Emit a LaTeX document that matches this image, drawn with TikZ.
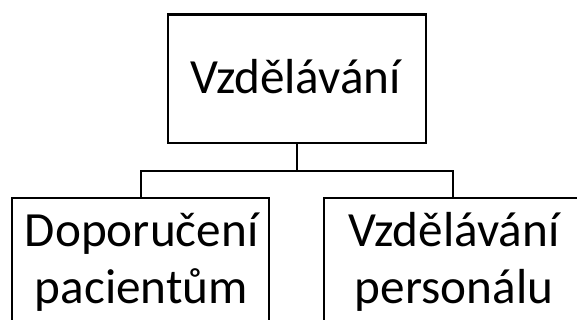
\documentclass[tikz,border=0pt]{standalone}
\usepackage{fontspec}
\setmainfont{Carlito}
\begin{document}
\begin{tikzpicture}[x=1pt,y=-1pt,
  box/.style={draw=black,line width=2.2pt,rectangle,inner sep=0pt},
  label/.style={font=\fontsize{49.2}{56}\selectfont,inner sep=0pt,anchor=base},
  link/.style={draw=black,line width=2.2pt}]
  \useasboundingbox (0,0) rectangle (577,320);
  \clip (0,0) rectangle (577,320);
  % boxes
  \node[box,minimum width=258pt,minimum height=128.8pt] (top) at (296.7,79) {};
  \node[box,minimum width=257.3pt,minimum height=160pt] (left) at (140.7,278.3) {};
  \node[box,minimum width=257.3pt,minimum height=160pt] (right) at (452.7,278.3) {};
  % texts
  \node[label] (toptext) at (295.5,93.3) {Vzdělávání};
  \node[label] (lefta) at (141.7,246.7) {Doporučení};
  \node[label] (leftb) at (141.3,303.3) {pacientům};
  \node[label] (righta) at (454,246.7) {Vzdělávání};
  \node[label] (rightb) at (454,303.3) {personálu};
  % connectors
  \coordinate (split) at (296.7,170.7);
  \draw[link] (top.south) -- (split);
  \draw[link] (left.north) |- (split) -| (right.north);
\end{tikzpicture}
\end{document}
